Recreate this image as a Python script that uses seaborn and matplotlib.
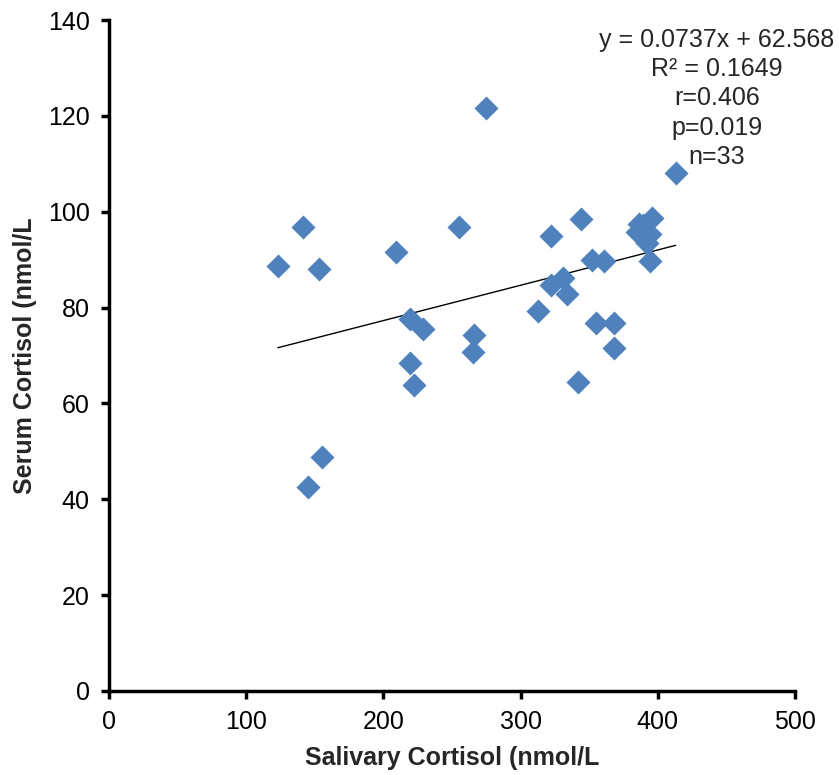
import numpy as np
import pandas as pd
import seaborn as sns
import matplotlib.pyplot as plt

# salivary vs serum cortisol
salivary = [123, 141, 153, 209, 219, 229, 219, 222, 155, 145,
            275, 255, 266, 265, 313, 413,
            344, 322, 386, 396, 385, 394, 392, 394, 389,
            352, 361, 331, 322, 334, 355, 368, 368, 342]
serum = [88.6, 96.8, 88.1, 91.6, 77.7, 75.6, 68.5, 63.8, 48.9, 42.6,
         121.6, 96.8, 74.2, 70.7, 79.2, 108.0,
         98.6, 94.9, 97.5, 98.8, 95.8, 95.4, 93.4, 89.7, 97.2,
         90.0, 89.7, 86.1, 84.7, 82.9, 76.9, 76.9, 71.5, 64.4]

# trend line as printed on the chart
slope = 0.0737
intercept = 62.568

x_ticks = [0, 100, 200, 300, 400, 500]
y_ticks = [0, 20, 40, 60, 80, 100, 120, 140]

df = pd.DataFrame({"salivary": salivary, "serum": serum})
line_x = [min(salivary), max(salivary)]
trend = pd.DataFrame({"x": line_x, "y": [intercept + slope * v for v in line_x]})

sns.set_style("ticks")
plt.rcParams["font.family"] = ["Liberation Sans", "DejaVu Sans"]

fig = plt.figure(figsize=(8.39, 7.75), dpi=100)
ax = fig.add_axes([0.130, 0.1084, 0.8176, 0.8656])

sns.lineplot(data=trend, x="x", y="y", ax=ax, color="black", linewidth=1, zorder=2)
sns.scatterplot(data=df, x="salivary", y="serum", ax=ax, marker="D", s=150,
                color="#4F81BD", edgecolor="#4F81BD", linewidth=0, zorder=3)

ax.set_xlim(0, 500)
ax.set_ylim(0, 140)
ax.set_xticks(x_ticks)
ax.set_yticks(y_ticks)
ax.tick_params(axis="both", labelsize=18, length=6, width=2.5, direction="out",
               color="black", labelcolor="black", pad=8)
for side in ["left", "bottom"]:
    ax.spines[side].set_linewidth(2.5)
    ax.spines[side].set_color("black")
sns.despine(ax=ax)

ax.set_xlabel("Salivary Cortisol (nmol/L", fontsize=18, fontweight="bold", labelpad=8)
ax.set_ylabel("Serum Cortisol (nmol/L", fontsize=18, fontweight="bold", labelpad=8)

ax.text(0.886, 0.988, "y = 0.0737x + 62.568\nR² = 0.1649\nr=0.406\np=0.019\nn=33",
        transform=ax.transAxes, ha="center", va="top", fontsize=18, linespacing=1.27)

fig.savefig("out.png", dpi=100)
